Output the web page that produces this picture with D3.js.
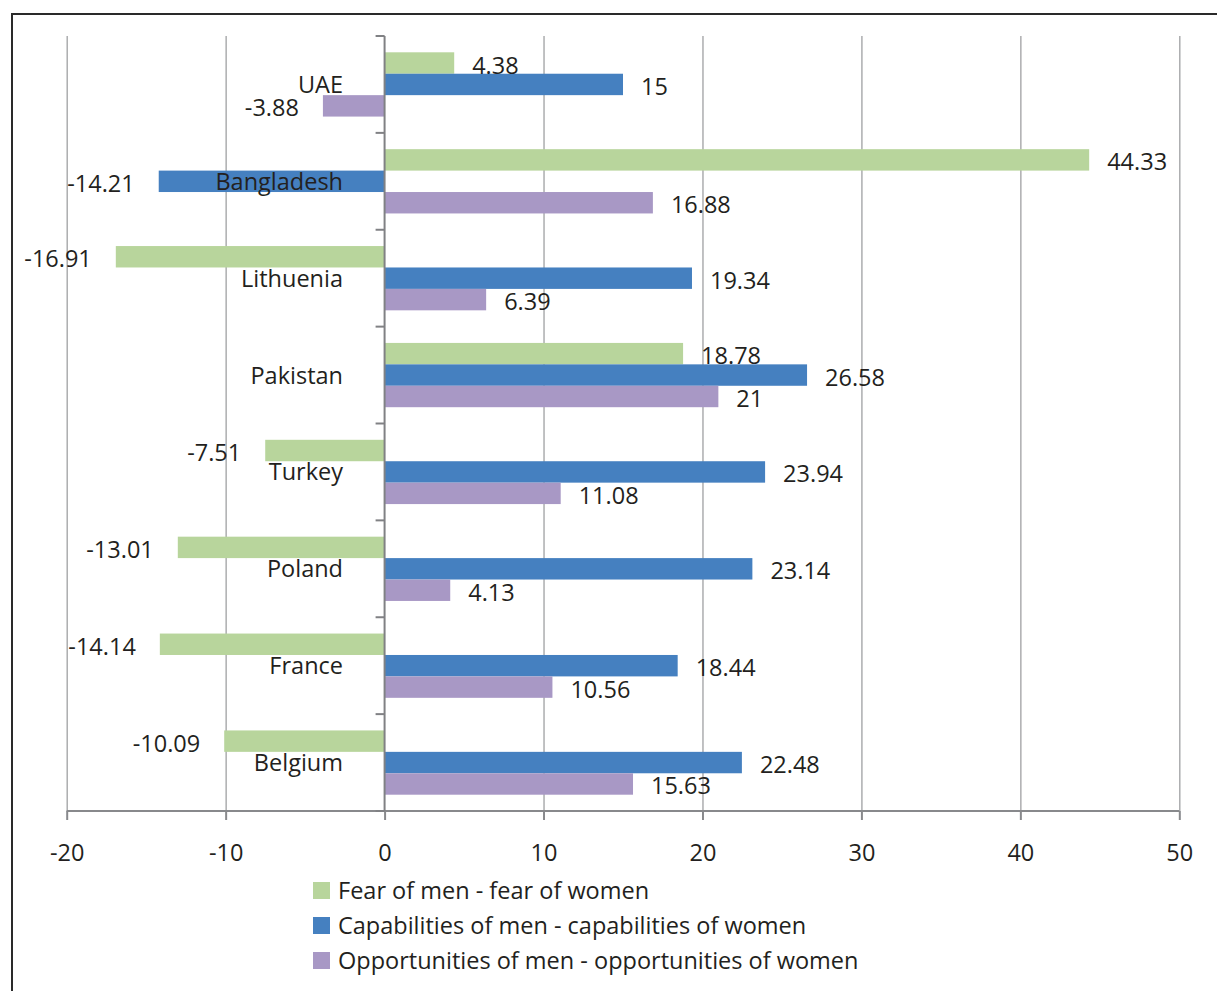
<!DOCTYPE html>
<html>
<head>
<meta charset="utf-8">
<script src="https://cdn.jsdelivr.net/npm/d3@7"></script>
<style>
  html, body { margin: 0; padding: 0; background: #fff; }
  svg { display: block; }
  text { font-family: "Open Sans", "Noto Sans", sans-serif; fill: #231f20; }
</style>
</head>
<body>
<svg id="chart" width="1217" height="991"></svg>
<script>
// Countries, top to bottom
const categories = ["UAE", "Bangladesh", "Lithuenia", "Pakistan", "Turkey", "Poland", "France", "Belgium"];

// Differences between men and women, one array per measure
const fearValues          = [4.38, 44.33, -16.91, 18.78, -7.51, -13.01, -14.14, -10.09];
const capabilitiesValues  = [15, -14.21, 19.34, 26.58, 23.94, 23.14, 18.44, 22.48];
const opportunitiesValues = [-3.88, 16.88, 6.39, 21, 11.08, 4.13, 10.56, 15.63];

const seriesNames = [
  "Fear of men - fear of women",
  "Capabilities of men - capabilities of women",
  "Opportunities of men - opportunities of women"
];
const seriesColors = ["#b8d59c", "#4580c0", "#a898c5"];
const xTicks = [-20, -10, 0, 10, 20, 30, 40, 50];

const series = [fearValues, capabilitiesValues, opportunitiesValues].map((vals, i) => ({
  name: seriesNames[i], color: seriesColors[i], values: vals
}));

const svg = d3.select("#chart");
const FONT = 23.5;

// Outer frame
svg.append("path")
  .attr("d", "M12,1000 L12,14 L1230,14")
  .attr("fill", "none").attr("stroke", "#2a2a2a").attr("stroke-width", 2);

const plotTop = 36, plotBottom = 811;
const x = d3.scaleLinear().domain([-20, 50]).range([66.7, 1179.3]);
const y = d3.scaleBand().domain(categories).range([plotTop, plotBottom]);
const bw = y.bandwidth();
const inner = d3.scaleBand().domain(d3.range(series.length)).range([16.3, bw - 16.3]);

// Vertical gridlines
svg.append("g")
  .attr("transform", `translate(0,${plotBottom})`)
  .call(d3.axisBottom(x).tickValues(xTicks.filter(t => t !== 0)).tickSize(-(plotBottom - plotTop)).tickFormat(""))
  .call(g => g.select(".domain").remove())
  .call(g => g.selectAll(".tick line").attr("stroke", "#a6a7a9").attr("stroke-width", 1.4));

// Bars
const groups = svg.append("g").selectAll("g")
  .data(categories).join("g")
  .attr("transform", d => `translate(0,${y(d)})`);

series.forEach((s, si) => {
  groups.append("rect")
    .attr("x", (c, ci) => x(Math.min(0, s.values[ci])))
    .attr("y", inner(si))
    .attr("width", (c, ci) => Math.abs(x(s.values[ci]) - x(0)))
    .attr("height", inner.bandwidth())
    .attr("fill", s.color);
});

// Category labels
groups.append("text")
  .attr("x", 343)
  .attr("y", bw / 2 + 8.5)
  .attr("text-anchor", "end")
  .attr("font-size", FONT)
  .text(d => d);

// Value labels
series.forEach((s, si) => {
  groups.append("text")
    .attr("x", (c, ci) => s.values[ci] >= 0 ? x(s.values[ci]) + 18 : x(s.values[ci]) - 24)
    .attr("y", inner(si) + inner.bandwidth() / 2 + 10.5)
    .attr("text-anchor", (c, ci) => s.values[ci] >= 0 ? "start" : "end")
    .attr("font-size", FONT)
    .text((c, ci) => String(s.values[ci]));
});

// X axis
svg.append("g")
  .attr("transform", `translate(0,${plotBottom})`)
  .call(d3.axisBottom(x).tickValues(xTicks).tickSize(9).tickPadding(0).tickFormat(d3.format("d")))
  .call(g => g.select(".domain").attr("stroke", "#88898c").attr("stroke-width", 2)
                .attr("d", `M${x(-20)},0H${x(50)}`))
  .call(g => g.selectAll(".tick line").attr("stroke", "#88898c").attr("stroke-width", 2))
  .call(g => g.selectAll(".tick text")
                .attr("y", 50).attr("dy", 0)
                .attr("font-size", FONT)
                .attr("font-family", "'Open Sans', 'Noto Sans', sans-serif")
                .attr("fill", "#231f20")
                .text(d => d < 0 ? "-" + Math.abs(d) : d));

// Y axis with ticks at category boundaries
const boundaries = categories.map(c => y(c)).concat([plotBottom]);
const yAxis = svg.append("g").attr("transform", `translate(${x(0)},0)`);
yAxis.append("line")
  .attr("y1", plotTop).attr("y2", plotBottom)
  .attr("stroke", "#808184").attr("stroke-width", 2);
yAxis.selectAll(".btick").data(boundaries).join("line")
  .attr("class", "btick")
  .attr("x1", -9).attr("x2", 0)
  .attr("y1", d => d).attr("y2", d => d)
  .attr("stroke", "#808184").attr("stroke-width", 2);

// Legend
const legend = svg.append("g").attr("transform", "translate(313,882)");
const li = legend.selectAll("g").data(series).join("g")
  .attr("transform", (d, i) => `translate(0,${i * 35})`);
li.append("rect").attr("width", 17).attr("height", 17).attr("fill", d => d.color);
li.append("text").attr("x", 25).attr("y", 17).attr("font-size", FONT).text(d => d.name);
</script>
</body>
</html>
